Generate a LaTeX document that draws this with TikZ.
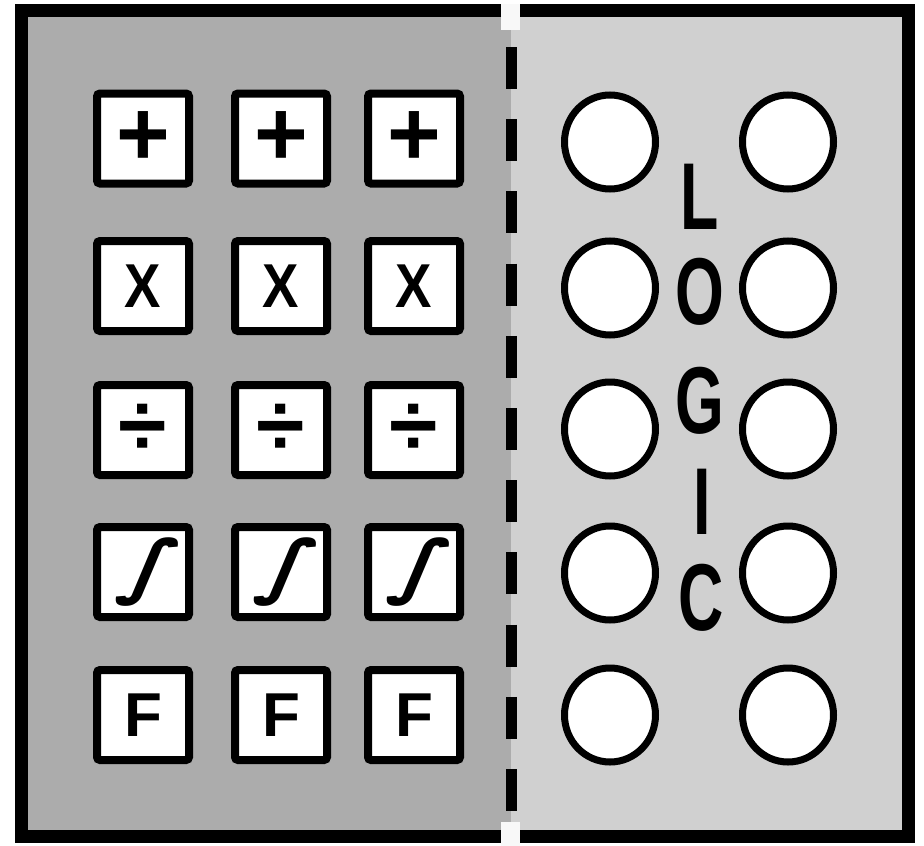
\documentclass[tikz,border=0pt]{standalone}
\usepackage{fontspec}
\usepackage{graphicx}
\setmainfont{Liberation Sans}
\newfontfamily\intfont[FakeSlant=0.28]{DejaVu Sans}
\usetikzlibrary{shapes.geometric}
\definecolor{leftgray}{RGB}{172,172,172}
\definecolor{rightgray}{RGB}{208,208,208}
\newcommand\opplus{{\fontsize{92}{92}\selectfont +}}
\newcommand\optimes{\scalebox{0.88}[1]{\fontsize{62}{62}\selectfont X}}
\newcommand\opdivide{{\fontsize{88}{88}\selectfont ÷}}
\newcommand\opintegral{\scalebox{1.2}[1]{\intfont\bfseries\fontsize{70}{70}\selectfont ∫}}
\newcommand\opfunc{{\fontsize{62}{62}\selectfont F}}
\begin{document}
\begin{tikzpicture}[x=1pt,y=-1pt,
  opbox/.style={draw=black, line width=8pt, fill=white, rounded corners=3pt,
    minimum width=92pt, minimum height=90pt, inner sep=0pt, font=\bfseries},
  hole/.style={ellipse, draw=black, line width=7pt, fill=white,
    minimum width=91pt, minimum height=94pt, inner sep=0pt},
  letter/.style={font=\fontsize{95}{95}\selectfont\bfseries, inner sep=0pt, xscale=0.66},
  frame/.style={line width=13pt, line join=miter, draw=black},
  divider/.style={line width=11pt, draw=black, dash pattern=on 42pt off 30.2pt}]
\useasboundingbox (0,0) rectangle (924,846);
% panels
\fill[leftgray] (21.5,10.5) rectangle (511,836);
\fill[rightgray] (511,10.5) rectangle (908.5,836);
\fill[white!85!rightgray] (501,4) rectangle (520,30);
\fill[white!85!rightgray] (501,822) rectangle (520,846);
% frame with gaps
\draw[frame] (501,10.5) -- (21.5,10.5) -- (21.5,836) -- (501,836);
\draw[frame] (520,10.5) -- (908.5,10.5) -- (908.5,836) -- (520,836);
% divider
\coordinate (divtop) at (511,47);
\coordinate (divbot) at (511,811);
\draw[divider] (divtop) -- (divbot);
% operator boxes
\foreach \c/\x in {1/143,2/281,3/414} {
  \node[opbox] (plus\c) at (\x,138.5) {\opplus};
  \node[opbox] (times\c) at (\x,286) {\optimes};
  \node[opbox] (div\c) at (\x,430) {\opdivide};
  \node[opbox] (int\c) at (\x,572) {\opintegral};
  \node[opbox] (func\c) at (\x,715) {\opfunc};
}
% holes
\foreach \r/\y in {1/142,2/288,3/429,4/573,5/715} {
  \node[hole] (holeL\r) at (610,\y) {};
  \node[hole] (holeR\r) at (788,\y) {};
}
% LOGIC
\node[letter] (lL) at (700,197) {L};
\node[letter] (lO) at (700,292) {O};
\node[letter] (lG) at (700,401) {G};
\node[letter] (lI) at (702,502) {I};
\node[letter] (lC) at (701,598) {C};
\end{tikzpicture}
\end{document}
